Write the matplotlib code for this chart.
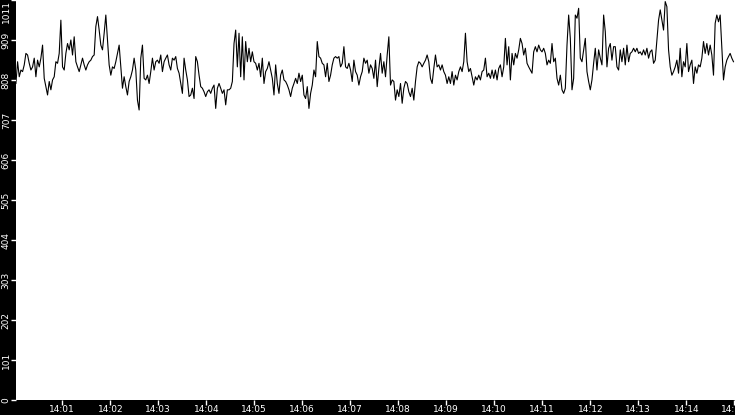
import numpy as np
import pandas as pd
import matplotlib
matplotlib.use("Agg")
import matplotlib.pyplot as plt
import matplotlib.dates as mdates

# значения (примерно каждые 1.7 px)
values = [
    800, 855, 817, 834, 830, 847, 876, 872, 851, 834, 842, 864, 817, 859, 842, 864, 897, 813,
    792, 771, 805, 784, 809, 817, 855, 851, 876, 960, 842, 834, 876, 901, 885, 910, 872, 918,
    855, 842, 830, 847, 864, 847, 834, 847, 855, 859, 868, 872, 944, 969, 935, 897, 885, 927,
    973, 910, 847, 821, 842, 838, 855, 876, 897, 842, 788, 817, 792, 771, 805, 817, 834, 864,
    834, 758, 733, 864, 897, 813, 809, 821, 800, 830, 864, 834, 855, 859, 851, 872, 830, 855,
    864, 872, 847, 834, 864, 859, 868, 838, 826, 800, 775, 864, 834, 809, 767, 771, 788, 762,
    868, 855, 821, 792, 788, 779, 767, 779, 784, 775, 788, 796, 737, 788, 800, 788, 775, 784,
    746, 784, 784, 788, 805, 901, 935, 842, 927, 817, 918, 809, 906, 855, 889, 855, 880, 855,
    851, 834, 851, 817, 864, 800, 830, 838, 855, 834, 813, 771, 847, 800, 775, 821, 834, 809,
    805, 796, 784, 767, 788, 800, 813, 800, 826, 805, 821, 771, 762, 792, 737, 775, 796, 834,
    817, 906, 868, 864, 851, 847, 817, 851, 805, 821, 847, 864, 868, 864, 868, 842, 851, 893,
    842, 838, 851, 834, 805, 859, 830, 821, 796, 817, 830, 864, 851, 859, 826, 847, 838, 813,
    859, 792, 838, 876, 826, 855, 817, 872, 918, 796, 809, 805, 758, 784, 767, 800, 750, 788,
    805, 800, 779, 767, 788, 758, 805, 842, 855, 851, 842, 851, 859, 872, 855, 813, 800, 838,
    872, 842, 847, 834, 847, 830, 821, 800, 817, 800, 830, 796, 821, 809, 830, 842, 830, 855,
    927, 855, 830, 838, 817, 796, 817, 809, 821, 809, 830, 834, 864, 817, 826, 813, 834, 813,
    834, 809, 838, 847, 817, 842, 914, 847, 893, 809, 876, 847, 876, 864, 885, 914, 901, 872,
    889, 851, 842, 834, 826, 880, 893, 880, 897, 885, 880, 889, 876, 847, 859, 851, 901, 855,
    864, 813, 796, 821, 784, 775, 788, 897, 973, 914, 784, 813, 973, 965, 990, 864, 855, 885,
    914, 830, 805, 784, 809, 851, 889, 834, 885, 864, 847, 973, 931, 842, 889, 901, 859, 893,
    893, 842, 834, 885, 855, 889, 847, 897, 855, 876, 880, 889, 880, 889, 876, 880, 872, 885,
    872, 889, 864, 880, 885, 851, 859, 910, 960, 986, 960, 935, 1007, 994, 885, 842, 821, 830,
    842, 859, 826, 889, 817, 855, 842, 901, 830, 847, 859, 800, 842, 826, 847, 842, 864, 906,
    876, 901, 872, 897, 872, 821, 952, 973, 956, 973, 893, 809, 842, 859, 868, 876, 864, 855,
]
t_start = "2024-01-01 14:00:02"
t_end = "2024-01-01 14:14:59"

y_ticks = [0, 101, 202, 303, 404, 505, 606, 707, 808, 909, 1011]

times = pd.date_range(t_start, t_end, periods=len(values))

W, H, DPI = 735, 415, 100
fig = plt.figure(figsize=(W / DPI, H / DPI), dpi=DPI, facecolor="black")
ax = fig.add_axes([16 / W, 15 / H, 719 / W, 400 / H])
ax.set_facecolor("white")

ax.plot(times, values, color="black", linewidth=0.8)

ax.set_xlim(pd.Timestamp("2024-01-01 14:00:02.1"), pd.Timestamp("2024-01-01 14:15:00.9"))
ax.set_ylim(0, 1011)

ax.xaxis.set_major_locator(mdates.MinuteLocator())
ax.xaxis.set_major_formatter(mdates.DateFormatter("%H:%M"))
ax.set_yticks(y_ticks)
ax.set_yticklabels([str(v) for v in y_ticks], rotation=90, va="center")
# верхняя подпись прижата вниз, чтобы не обрезалась
ax.get_yticklabels()[-1].set_va("top")

# белые засечки и подписи на чёрном поле
ax.tick_params(colors="white", labelsize=6.5, length=3.5, width=1, pad=0.3)
for s in ax.spines.values():
    s.set_visible(False)

fig.savefig("out.png", dpi=DPI, facecolor="black")
